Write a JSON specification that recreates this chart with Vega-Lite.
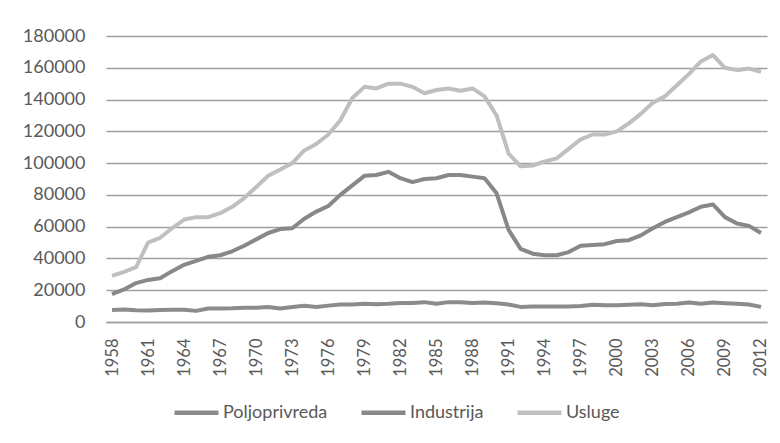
{
  "$schema": "https://vega.github.io/schema/vega-lite/v6.json",
  "width": 661,
  "height": 286,
  "autosize": {"type": "none"},
  "padding": {"left": 106, "top": 36, "right": 13, "bottom": 121},
  "background": "white",
  "data": {"values": [
    {"year": "1958", "Poljoprivreda": 7500, "Industrija": 17500, "Usluge": 29000},
    {"year": "1959", "Poljoprivreda": 7800, "Industrija": 20500, "Usluge": 31500},
    {"year": "1960", "Poljoprivreda": 7400, "Industrija": 24500, "Usluge": 34500},
    {"year": "1961", "Poljoprivreda": 7200, "Industrija": 26500, "Usluge": 50000},
    {"year": "1962", "Poljoprivreda": 7500, "Industrija": 27500, "Usluge": 53000},
    {"year": "1963", "Poljoprivreda": 7700, "Industrija": 32000, "Usluge": 59000},
    {"year": "1964", "Poljoprivreda": 7700, "Industrija": 36000, "Usluge": 64500},
    {"year": "1965", "Poljoprivreda": 7000, "Industrija": 38500, "Usluge": 66000},
    {"year": "1966", "Poljoprivreda": 8500, "Industrija": 41000, "Usluge": 66000},
    {"year": "1967", "Poljoprivreda": 8500, "Industrija": 42000, "Usluge": 68500},
    {"year": "1968", "Poljoprivreda": 8600, "Industrija": 44500, "Usluge": 72500},
    {"year": "1969", "Poljoprivreda": 9000, "Industrija": 48000, "Usluge": 78000},
    {"year": "1970", "Poljoprivreda": 9000, "Industrija": 52000, "Usluge": 85000},
    {"year": "1971", "Poljoprivreda": 9500, "Industrija": 56000, "Usluge": 92000},
    {"year": "1972", "Poljoprivreda": 8500, "Industrija": 58500, "Usluge": 96000},
    {"year": "1973", "Poljoprivreda": 9500, "Industrija": 59000, "Usluge": 100000},
    {"year": "1974", "Poljoprivreda": 10200, "Industrija": 65000, "Usluge": 108000},
    {"year": "1975", "Poljoprivreda": 9500, "Industrija": 69500, "Usluge": 112000},
    {"year": "1976", "Poljoprivreda": 10300, "Industrija": 73000, "Usluge": 118000},
    {"year": "1977", "Poljoprivreda": 11000, "Industrija": 80000, "Usluge": 127000},
    {"year": "1978", "Poljoprivreda": 11000, "Industrija": 86000, "Usluge": 141000},
    {"year": "1979", "Poljoprivreda": 11500, "Industrija": 92000, "Usluge": 148000},
    {"year": "1980", "Poljoprivreda": 11200, "Industrija": 92500, "Usluge": 147000},
    {"year": "1981", "Poljoprivreda": 11500, "Industrija": 94500, "Usluge": 150000},
    {"year": "1982", "Poljoprivreda": 12000, "Industrija": 90500, "Usluge": 150000},
    {"year": "1983", "Poljoprivreda": 12000, "Industrija": 88000, "Usluge": 148000},
    {"year": "1984", "Poljoprivreda": 12500, "Industrija": 90000, "Usluge": 144000},
    {"year": "1985", "Poljoprivreda": 11500, "Industrija": 90500, "Usluge": 146000},
    {"year": "1986", "Poljoprivreda": 12500, "Industrija": 92500, "Usluge": 147000},
    {"year": "1987", "Poljoprivreda": 12500, "Industrija": 92500, "Usluge": 145500},
    {"year": "1988", "Poljoprivreda": 12000, "Industrija": 91500, "Usluge": 147000},
    {"year": "1989", "Poljoprivreda": 12200, "Industrija": 90500, "Usluge": 142000},
    {"year": "1990", "Poljoprivreda": 11800, "Industrija": 81000, "Usluge": 130000},
    {"year": "1991", "Poljoprivreda": 11000, "Industrija": 58000, "Usluge": 106000},
    {"year": "1992", "Poljoprivreda": 9500, "Industrija": 46000, "Usluge": 98000},
    {"year": "1993", "Poljoprivreda": 9800, "Industrija": 43000, "Usluge": 98500},
    {"year": "1994", "Poljoprivreda": 9800, "Industrija": 42000, "Usluge": 101000},
    {"year": "1995", "Poljoprivreda": 9800, "Industrija": 42000, "Usluge": 103000},
    {"year": "1996", "Poljoprivreda": 9800, "Industrija": 44000, "Usluge": 109000},
    {"year": "1997", "Poljoprivreda": 10000, "Industrija": 48000, "Usluge": 115000},
    {"year": "1998", "Poljoprivreda": 10800, "Industrija": 48500, "Usluge": 118000},
    {"year": "1999", "Poljoprivreda": 10500, "Industrija": 49000, "Usluge": 118000},
    {"year": "2000", "Poljoprivreda": 10500, "Industrija": 51000, "Usluge": 120000},
    {"year": "2001", "Poljoprivreda": 10800, "Industrija": 51500, "Usluge": 125000},
    {"year": "2002", "Poljoprivreda": 11200, "Industrija": 54500, "Usluge": 131000},
    {"year": "2003", "Poljoprivreda": 10500, "Industrija": 59000, "Usluge": 138000},
    {"year": "2004", "Poljoprivreda": 11300, "Industrija": 63000, "Usluge": 142000},
    {"year": "2005", "Poljoprivreda": 11500, "Industrija": 66000, "Usluge": 149000},
    {"year": "2006", "Poljoprivreda": 12300, "Industrija": 69000, "Usluge": 156000},
    {"year": "2007", "Poljoprivreda": 11500, "Industrija": 72500, "Usluge": 164000},
    {"year": "2008", "Poljoprivreda": 12200, "Industrija": 74000, "Usluge": 168000},
    {"year": "2009", "Poljoprivreda": 11800, "Industrija": 66000, "Usluge": 160000},
    {"year": "2010", "Poljoprivreda": 11500, "Industrija": 62000, "Usluge": 158500},
    {"year": "2011", "Poljoprivreda": 11000, "Industrija": 60500, "Usluge": 159500},
    {"year": "2012", "Poljoprivreda": 9500, "Industrija": 56000, "Usluge": 157500}
  ]},
  "transform": [
    {"fold": ["Poljoprivreda", "Industrija", "Usluge"], "as": ["sector", "value"]}
  ],
  "mark": {"type": "line", "strokeWidth": 4, "strokeJoin": "round", "strokeCap": "butt"},
  "encoding": {
    "x": {
      "field": "year", "type": "ordinal",
      "scale": {"type": "point", "padding": 0.5},
      "axis": {
        "title": null,
        "values": ["1958","1961","1964","1967","1970","1973","1976","1979","1982","1985","1988","1991","1994","1997","2000","2003","2006","2009","2012"],
        "labelAngle": -90,
        "labelPadding": 16,
        "labelFontSize": 16.5,
        "labelFont": "Lato",
        "labelColor": "#595959",
        "ticks": false,
        "domainColor": "#a0a0a0",
        "domainWidth": 1.3,
        "grid": false
      }
    },
    "y": {
      "field": "value", "type": "quantitative",
      "scale": {"domain": [0, 180000], "nice": false},
      "axis": {
        "title": null,
        "values": [0, 20000, 40000, 60000, 80000, 100000, 120000, 140000, 160000, 180000],
        "format": "d",
        "labelFontSize": 18,
        "labelFont": "Lato",
        "labelColor": "#595959",
        "labelPadding": 21,
        "ticks": false,
        "domain": false,
        "gridColor": "#a0a0a0",
        "gridWidth": 1.3
      }
    },
    "color": {
      "field": "sector", "type": "nominal",
      "scale": {"domain": ["Poljoprivreda", "Industrija", "Usluge"], "range": ["#8b8b8b", "#888888", "#bfbfbf"]},
      "legend": {
        "title": null,
        "orient": "none",
        "direction": "horizontal",
        "legendX": 66,
        "legendY": 352,
        "symbolType": "stroke",
        "symbolSize": 1936,
        "symbolStrokeWidth": 4.5,
        "labelFont": "Lato",
        "labelFontSize": 18,
        "labelColor": "#595959",
        "labelOffset": 2,
        "columnPadding": 24
      }
    }
  },
  "config": {"view": {"stroke": null}}
}
